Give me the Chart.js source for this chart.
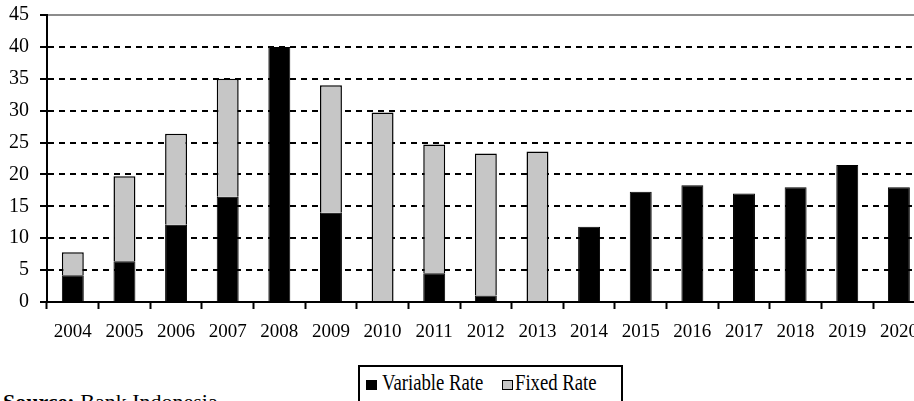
<!DOCTYPE html>
<html>
<head>
<meta charset="utf-8">
<script src="https://cdn.jsdelivr.net/npm/chart.js@4.4.0/dist/chart.umd.min.js"></script>
<style>
  html, body { margin: 0; padding: 0; background: #fff; overflow: hidden; }
  body { width: 914px; height: 401px; position: relative; font-family: "Liberation Serif", serif; color: #000; }
  #wrap { position: absolute; left: 0; top: 0; width: 930px; height: 350px; }
  #legendBox { position: absolute; left: 358px; top: 365px; width: 261px; height: 60px; border: 2px solid #000; }
  .sw { position: absolute; top: 380px; width: 11px; height: 10px; box-sizing: border-box; border: 1.5px solid #000; }
  .lt { position: absolute; top: 370px; font-size: 24px; line-height: 24px; transform: scaleX(0.78); transform-origin: 0 0; white-space: nowrap; }
  #source { position: absolute; left: 3px; top: 391px; font-size: 22px; line-height: 22px; white-space: nowrap; }
</style>
</head>
<body>
<div id="wrap"><canvas id="chart" width="930" height="350"></canvas></div>
<div id="legendBox"></div>
<div id="legendItems"></div>
<div id="source"><b>Source:</b> Bank Indonesia</div>
<script>
var years = ['2004', '2005', '2006', '2007', '2008', '2009', '2010', '2011', '2012',
             '2013', '2014', '2015', '2016', '2017', '2018', '2019', '2020'];
var variableRate = [4.2, 6.4, 12.1, 16.5, 40.0, 14.0, 0, 4.5, 1.0,
                    0, 11.8, 17.3, 18.3, 17.0, 18.0, 21.5, 18.0];
var fixedRate = [3.6, 13.3, 14.3, 18.5, 0, 20.0, 29.7, 20.2, 22.3,
                 23.6, 0, 0, 0, 0, 0, 0, 0];
var seriesNames = ['Variable Rate', 'Fixed Rate'];
var seriesColors = ['#000000', '#c6c6c6'];
var yMin = 0, yMax = 45, yStep = 5;

Chart.defaults.font.family = '"Liberation Serif", serif';
Chart.defaults.color = '#000';

var ctx = document.getElementById('chart').getContext('2d');
var chart = new Chart(ctx, {
    type: 'bar',
    data: {
        labels: years,
        datasets: [{
            label: seriesNames[0],
            data: variableRate,
            backgroundColor: seriesColors[0],
            borderColor: '#000',
            borderWidth: 1,
            barPercentage: 0.425,
            categoryPercentage: 1
        }, {
            label: seriesNames[1],
            data: fixedRate,
            backgroundColor: seriesColors[1],
            borderColor: '#000',
            borderWidth: 1.5,
            barPercentage: 0.425,
            categoryPercentage: 1
        }]
    },
    options: {
        responsive: false,
        animation: false,
        layout: { padding: { top: 15, right: 4, bottom: 0, left: 0 } },
        plugins: {
            legend: { display: false },
            tooltip: { enabled: false }
        },
        scales: {
            x: {
                stacked: true,
                grid: { offset: true, drawOnChartArea: false, drawTicks: true, tickLength: 7, tickColor: '#000', tickWidth: 2 },
                border: { color: '#000', width: 2 },
                ticks: { font: { size: 19 }, color: '#000', padding: 12, maxRotation: 0, autoSkip: false },
                afterFit: function (s) { s.height = 48; }
            },
            y: {
                stacked: true,
                min: yMin,
                max: yMax,
                ticks: { stepSize: yStep, font: { size: 20 }, color: '#000', padding: 11 },
                grid: {
                    color: function (c) { return c.tick && c.tick.value === yMax ? '#8c8c8c' : '#000'; },
                    lineWidth: 2,
                    tickLength: 7,
                    tickColor: '#000',
                    tickWidth: 2
                },
                border: {
                    color: '#000',
                    width: 2,
                    dash: function (c) { return c.tick && c.tick.value < yMax ? [6, 5] : []; }
                },
                afterFit: function (s) {
                    s.width = 47;
                    s.paddingTop = 0;
                    s.paddingBottom = 0;
                }
            }
        }
    }
});

// legend below the chart, built from the series
var items = document.getElementById('legendItems');
var swatchX = [366, 502];
var textX = [382, 515];
seriesNames.forEach(function (name, i) {
    var sw = document.createElement('div');
    sw.className = 'sw';
    sw.style.left = swatchX[i] + 'px';
    sw.style.background = seriesColors[i];
    items.appendChild(sw);
    var t = document.createElement('div');
    t.className = 'lt';
    t.style.left = textX[i] + 'px';
    t.textContent = name;
    items.appendChild(t);
});
</script>
</body>
</html>
